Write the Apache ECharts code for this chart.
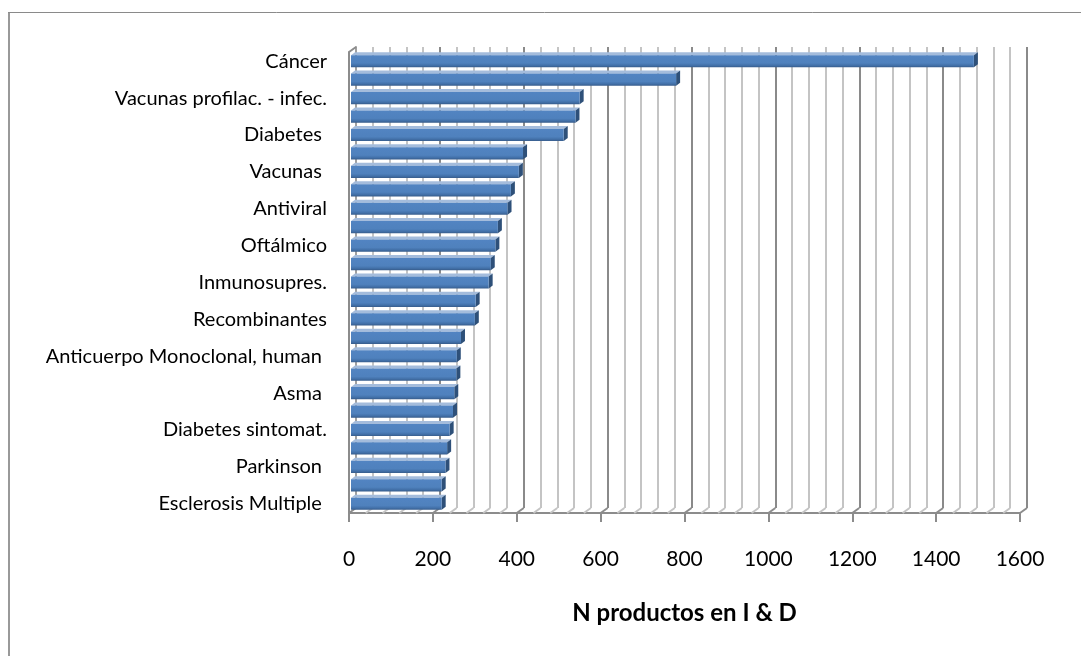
<!DOCTYPE html>
<html>
<head>
<meta charset="utf-8">
<script src="https://cdn.jsdelivr.net/npm/echarts@6/dist/echarts.min.js"></script>
<style>
  html, body { margin: 0; padding: 0; background: #fff; }
  #chart { width: 1081px; height: 656px; }
</style>
</head>
<body>
<div id="chart"></div>
<script>
// categorias (solo una de cada dos lleva rotulo en el original)
var categories = [
  'Cáncer', '', 'Vacunas profilac. - infec.', '', 'Diabetes ', '',
  'Vacunas ', '', 'Antiviral', '', 'Oftálmico', '', 'Inmunosupres.', '',
  'Recombinantes', '', 'Anticuerpo Monoclonal, human ', '', 'Asma ', '',
  'Diabetes sintomat.', '', 'Parkinson ', '', 'Esclerosis Multiple '
];
// N productos en I & D
var productos = [
  1490, 780, 550, 540, 512, 415, 405, 386, 378, 355, 349, 338, 333,
  302, 300, 267, 257, 256, 251, 248, 240, 234, 230, 221, 221
];
var xTicks = [0, 200, 400, 600, 800, 1000, 1200, 1400, 1600];

var barData = productos.map(function (v, i) { return [v, i]; });

var chart = echarts.init(document.getElementById('chart'));

function renderBar(params, api) {
  var idx = api.value(1);
  var p0 = api.coord([0, idx]);
  var p1 = api.coord([api.value(0), idx]);
  var h = api.size([0, 1])[1] * 0.66;
  var dx = 4, dy = 3;
  var top = p0[1] - h / 2, bottom = p0[1] + h / 2;
  var x0 = p0[0] + 2, x1 = p1[0];
  return {
    type: 'group',
    children: [
      { // cara superior
        type: 'polygon',
        shape: { points: [[x0, top], [x0 + dx, top - dy], [x1 + dx, top - dy], [x1, top]] },
        style: { fill: '#a4bcdc' }
      },
      { // cara lateral
        type: 'polygon',
        shape: { points: [[x1, top], [x1 + dx, top - dy], [x1 + dx, bottom - dy], [x1, bottom]] },
        style: { fill: '#2e5079' }
      },
      {
        type: 'rect',
        shape: { x: x0, y: top, width: x1 - x0, height: h },
        style: {
          fill: new echarts.graphic.LinearGradient(0, 0, 0, 1, [
            {offset: 0, color: '#5284c2'},
            {offset: 0.65, color: '#4f81bd'},
            {offset: 0.85, color: '#4270a8'},
            {offset: 1, color: '#375c8b'}
          ])
        }
      }
    ]
  };
}

var option = {
  backgroundColor: '#fff',
  animation: false,
  grid: [
    { left: 349, right: 61, top: 52, bottom: 143 },   // plano frontal
    { left: 356, right: 54, top: 47, bottom: 148 }    // pared del fondo
  ],
  xAxis: [{
    type: 'value',
    gridIndex: 0,
    min: 0, max: 1600, interval: 200,
    name: 'N productos en I & D',
    nameLocation: 'middle',
    nameGap: 88,
    nameTextStyle: { fontFamily: 'Lato', fontWeight: 'bold', fontSize: 24, color: '#000' },
    axisLine: { show: true, lineStyle: { color: '#8c8c8c', width: 2 } },
    axisTick: { show: true, length: 9, lineStyle: { color: '#8c8c8c', width: 2 } },
    axisLabel: {
      margin: 36,
      fontFamily: 'Lato', fontSize: 21, color: '#000',
      formatter: function (v) { return xTicks.indexOf(v) >= 0 ? String(v) : ''; }
    },
    splitLine: { show: false }
  }, {
    type: 'value',
    gridIndex: 1,
    min: 0, max: 1600, interval: 200,
    axisLine: { show: false },
    axisTick: { show: false },
    axisLabel: { show: false },
    splitLine: { show: true, lineStyle: { color: '#8a8a8a', width: 2 } },
    minorTick: { show: false, splitNumber: 5 },
    minorSplitLine: { show: true, lineStyle: { color: '#c4c4c4', width: 2 } }
  }],
  yAxis: [{
    type: 'category',
    gridIndex: 0,
    inverse: true,
    data: categories,
    axisLine: { show: true, lineStyle: { color: '#8c8c8c', width: 2 } },
    axisTick: { show: false },
    axisLabel: {
      interval: 0,
      margin: 22,
      fontFamily: 'Lato', fontSize: 20, color: '#000'
    },
    splitLine: { show: false }
  }, {
    type: 'category',
    gridIndex: 1,
    inverse: true,
    data: categories,
    axisLine: { show: true, lineStyle: { color: '#a0a0a0', width: 2 } },
    axisTick: { show: false },
    axisLabel: { show: false },
    splitLine: { show: false }
  }],
  series: [{
    type: 'custom',
    xAxisIndex: 0,
    yAxisIndex: 0,
    z: 10,
    renderItem: renderBar,
    encode: { x: 0, y: 1 },
    data: barData
  }]
};
chart.setOption(option);

// suelo y pared lateral (decoracion 3D) + marco exterior
var deco = [];
for (var v = 0; v <= 1600; v += 40) {
  var f = chart.convertToPixel({ xAxisIndex: 0 }, v);
  var b = chart.convertToPixel({ xAxisIndex: 1 }, v);
  deco.push({
    type: 'line', z: 1,
    shape: { x1: f, y1: 513, x2: b, y2: 508 },
    style: { stroke: v % 200 === 0 ? '#8c8c8c' : '#c4c4c4', lineWidth: 2 }
  });
}
deco.push({
  type: 'line', z: 1,
  shape: { x1: 349, y1: 52, x2: 356, y2: 47 },
  style: { stroke: '#8c8c8c', lineWidth: 2 }
});
deco.push({
  type: 'line', z: 1,
  shape: { x1: 9, y1: 12, x2: 9, y2: 656 },
  style: { stroke: '#999', lineWidth: 2 }
});
deco.push({
  type: 'line', z: 1,
  shape: { x1: 8, y1: 12.5, x2: 1081, y2: 12.5 },
  style: { stroke: '#8a8a8a', lineWidth: 1 }
});
chart.setOption({ graphic: deco });
</script>
</body>
</html>
